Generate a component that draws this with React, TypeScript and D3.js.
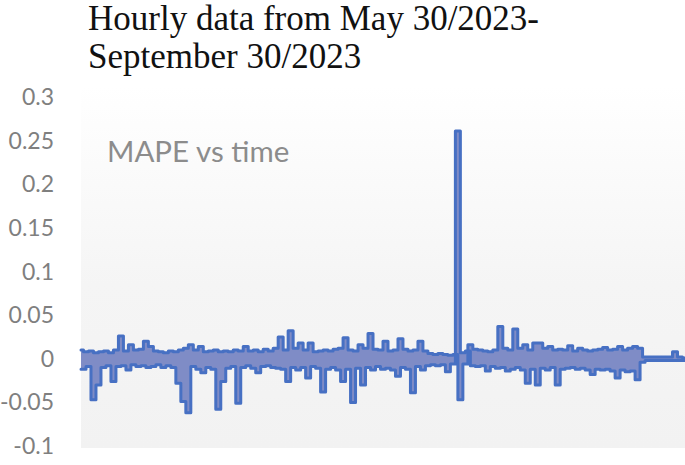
import React, { useEffect } from 'react';
import * as d3 from 'd3';

// chart text
const titleLines = ['Hourly data from May 30/2023-', 'September 30/2023'];
const seriesLabel = 'MAPE vs time';

// y axis ticks and labels as printed on the chart
const yTicks = [0.3, 0.25, 0.2, 0.15, 0.1, 0.05, 0, -0.05, -0.1];
const yTickLabels = ['0.3', '0.25', '0.2', '0.15', '0.1', '0.05', '0', '-0.05', '-0.1'];

const mape = [
  0.01, -0.012, 0.008, -0.009, 0.009, -0.047, 0.007, -0.03, 0.008, -0.01,
  0.009, -0.008, 0.007, -0.026, 0.01, -0.009, 0.026, -0.008, 0.009, -0.013,
  0.016, -0.007, 0.01, -0.009, 0.011, -0.008, 0.02, -0.01, 0.014, -0.009,
  0.009, -0.007, 0.008, -0.01, 0.007, -0.008, 0.009, -0.01, 0.008, -0.028,
  0.01, -0.049, 0.012, -0.062, 0.016, -0.009, 0.01, -0.012, 0.014, -0.016,
  0.008, -0.01, 0.009, -0.012, 0.01, -0.058, 0.008, -0.026, 0.009, -0.011,
  0.008, -0.009, 0.01, -0.051, 0.009, -0.01, 0.014, -0.008, 0.009, -0.011,
  0.01, -0.016, 0.008, -0.009, 0.011, -0.008, 0.009, -0.01, 0.012, -0.011,
  0.025, -0.012, 0.01, -0.026, 0.032, -0.01, 0.012, -0.013, 0.018, -0.01,
  0.01, -0.022, 0.018, -0.009, 0.008, -0.011, 0.009, -0.038, 0.01, -0.012,
  0.009, -0.01, 0.011, -0.013, 0.012, -0.026, 0.024, -0.012, 0.01, -0.05,
  0.009, -0.011, 0.016, -0.03, 0.012, -0.01, 0.029, -0.013, 0.011, -0.009,
  0.01, -0.012, 0.02, -0.011, 0.009, -0.013, 0.01, -0.02, 0.023, -0.01,
  0.011, -0.012, 0.009, -0.039, 0.01, -0.009, 0.02, -0.013, 0.009, -0.008,
  0.006, -0.007, 0.005, -0.008, 0.006, -0.007, 0.005, -0.015, 0.004, -0.006,
  0.005, 0.261, -0.047, 0.007, -0.006, 0.009, 0.016, -0.008, 0.011, -0.009,
  0.01, -0.008, 0.009, -0.014, 0.008, -0.009, 0.01, -0.011, 0.037, -0.01,
  0.012, -0.014, 0.01, -0.012, 0.034, -0.01, 0.012, -0.013, 0.016, -0.028,
  0.01, -0.012, 0.018, -0.03, 0.018, -0.011, 0.012, -0.013, 0.014, -0.01,
  0.01, -0.03, 0.011, -0.012, 0.01, -0.011, 0.015, -0.01, 0.009, -0.012,
  0.012, -0.011, 0.01, -0.013, 0.009, -0.018, 0.01, -0.012, 0.011, -0.013,
  0.013, -0.012, 0.01, -0.014, 0.011, -0.022, 0.014, -0.013, 0.01, -0.015,
  0.012, -0.014, 0.014, -0.024, 0.012, -0.004, 0.002, -0.002, 0.002, -0.002,
  0.002, -0.002, 0.002, -0.002, 0.002, -0.002, 0.002, -0.002, 0.008, -0.002,
  0.002, -0.002, 0.001,
];

const W = 685;
const H = 465;

const App = () => {
  // drop the default body margin so the svg sits at 0,0
  useEffect(() => {
    document.body.style.margin = '0';
  }, []);

  const plot = { left: 81, right: 685, top: 85, bottom: 448 };

  const x = d3.scaleLinear().domain([0, mape.length - 1]).range([plot.left, plot.right]);
  const y = d3.scaleLinear().domain([-0.1, 0.3]).range([446, 97]);

  // the hourly series swings up and down faster than a pixel, so it reads as a
  // band: each step spans the value and its neighbour
  const band = mape.slice(0, -1).map((v, i) => ({
    i,
    lo: Math.min(v, mape[i + 1]),
    hi: Math.max(v, mape[i + 1]),
  }));
  band.push({ i: mape.length - 1, lo: band[band.length - 1].lo, hi: band[band.length - 1].hi });

  const area = d3.area<{ i: number; lo: number; hi: number }>()
    .x(d => x(d.i))
    .y0(d => y(d.lo))
    .y1(d => y(d.hi))
    .curve(d3.curveStepAfter);
  const upper = d3.line<{ i: number; lo: number; hi: number }>()
    .x(d => x(d.i))
    .y(d => y(d.hi))
    .curve(d3.curveStepAfter);
  const lower = d3.line<{ i: number; lo: number; hi: number }>()
    .x(d => x(d.i))
    .y(d => y(d.lo))
    .curve(d3.curveStepAfter);

  return (
    <svg width={W} height={H} style={{ display: 'block', background: '#fff' }}>
      <defs>
        <linearGradient id="plot-bg" x1="0" y1="0" x2="0" y2="1">
          <stop offset="0%" stopColor="#ffffff" />
          <stop offset="55%" stopColor="#f5f5f5" />
          <stop offset="100%" stopColor="#f2f2f2" />
        </linearGradient>
        <clipPath id="plot-clip">
          <rect x={plot.left - 3} y={0} width={plot.right - plot.left + 3} height={plot.bottom} />
        </clipPath>
      </defs>

      {/* plot area */}
      <rect
        x={plot.left}
        y={plot.top}
        width={plot.right - plot.left}
        height={plot.bottom - plot.top}
        fill="url(#plot-bg)"
      />

      {/* title */}
      {titleLines.map((t, i) => (
        <text
          key={t}
          x={88}
          y={30 + i * 38}
          fontFamily="'Liberation Serif', 'Times New Roman', serif"
          fontSize={35}
          fill="#111"
        >
          {t}
        </text>
      ))}

      {/* y axis labels */}
      {yTicks.map((v, i) => (
        <text
          key={v}
          x={54}
          y={y(v)}
          dy="0.35em"
          textAnchor="end"
          fontFamily="Lato, 'Open Sans', sans-serif"
          fontSize={23}
          fill="#7f7f7f"
        >
          {yTickLabels[i]}
        </text>
      ))}

      {/* series label */}
      <text x={107} y={162} fontFamily="Lato, 'Open Sans', sans-serif" fontSize={29.5} fill="#8c8c8c">
        {seriesLabel}
      </text>

      {/* series: lighter core with dark outline */}
      <g clipPath="url(#plot-clip)">
        <path d={area(band) || ''} fill="#7f8cc6" stroke="none" />
        <path d={upper(band) || ''} fill="none" stroke="#4770c3" strokeWidth={3} strokeLinejoin="round" strokeLinecap="round" />
        <path d={lower(band) || ''} fill="none" stroke="#4770c3" strokeWidth={3} strokeLinejoin="round" strokeLinecap="round" />
      </g>
    </svg>
  );
};

export default App;
